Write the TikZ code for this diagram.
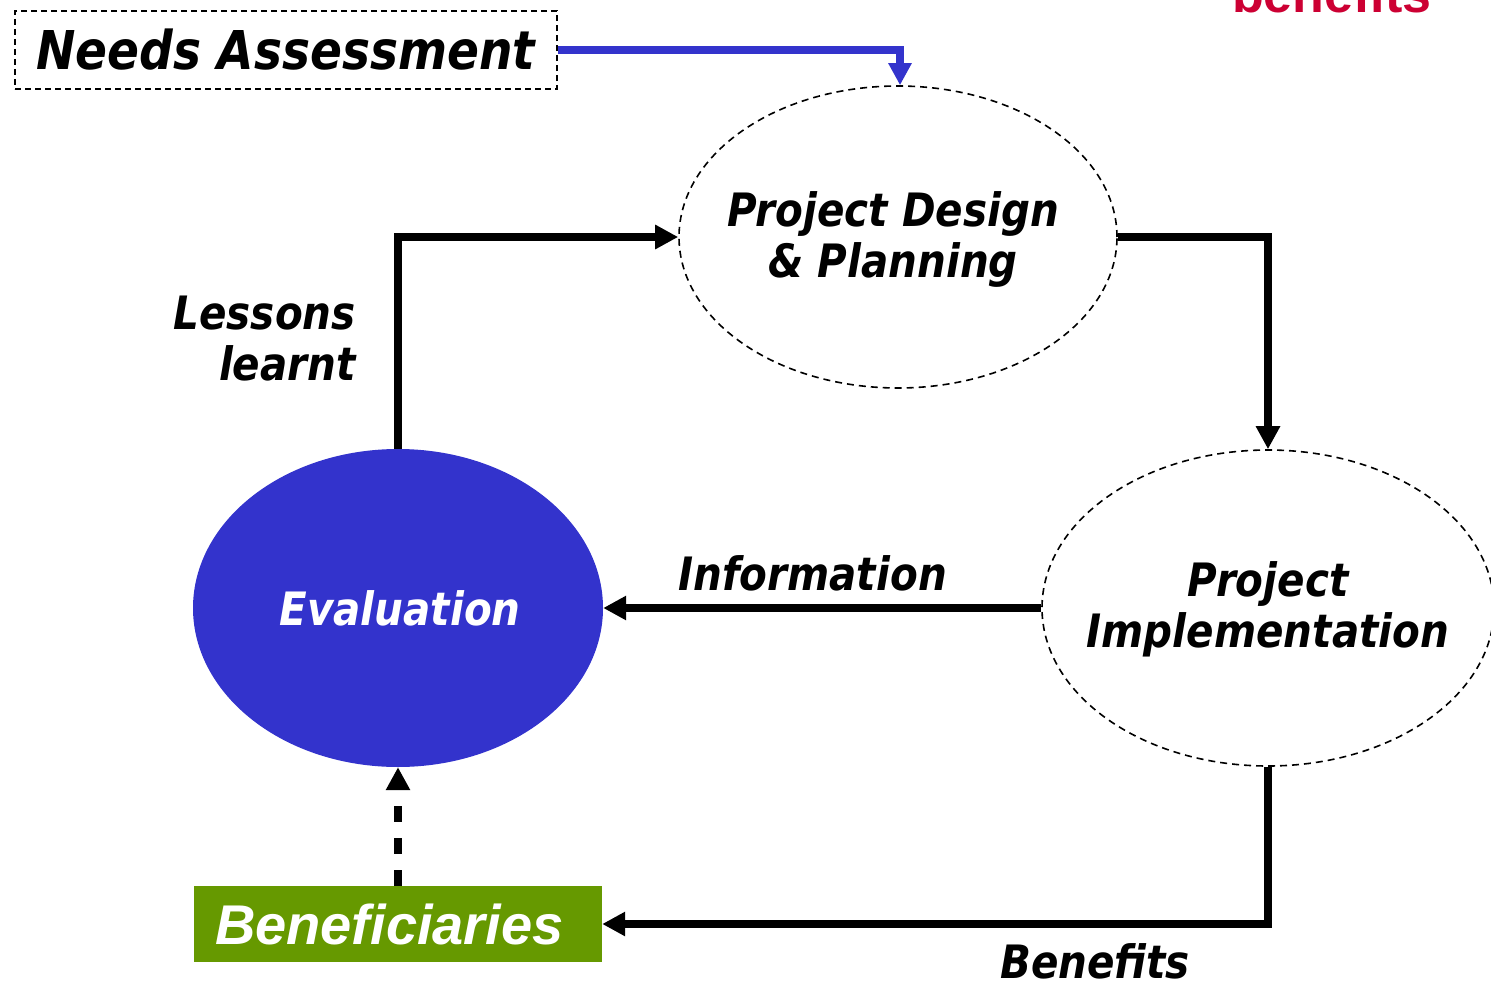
\documentclass[tikz,border=0pt]{standalone}
\usepackage{fontspec}
\usetikzlibrary{shapes.geometric,arrows.meta}
\newfontfamily\vfont{DejaVu Sans}[FakeStretch=0.88]
\newfontfamily\afont{Liberation Sans}
\definecolor{myblue}{HTML}{3333CC}
\definecolor{mygreen}{HTML}{669900}
\definecolor{myred}{HTML}{CC0033}
\tikzset{
  lbl/.style={font=\vfont\bfseries\itshape\fontsize{46}{51}\selectfont, inner sep=0pt, align=center},
  dashell/.style={ellipse, draw=black, line width=1.6pt, dash pattern=on 7pt off 5pt, inner sep=0pt},
  flow/.style={line width=7.5pt, -{Triangle[width=23pt,length=23pt]}},
}
\begin{document}
\begin{tikzpicture}[x=1pt,y=-1pt]
\useasboundingbox (0,0) rectangle (1491,982);
% red partial text
\node[font=\afont\bfseries\fontsize{52}{60}\selectfont, text=myred, inner sep=0pt, anchor=base west] (red) at (1232,13) {benefits};
% shapes
\node[rectangle, draw=black, line width=1.6pt, dash pattern=on 6pt off 4pt, minimum width=542pt, minimum height=78pt, inner sep=0pt] (needs) at (286,50) {};
\node[dashell, minimum width=438pt, minimum height=302pt] (design) at (898,237) {};
\node[dashell, minimum width=452pt, minimum height=316pt] (impl) at (1268,608) {};
\node[ellipse, fill=myblue, minimum width=410pt, minimum height=318pt, inner sep=0pt] (eval) at (398,608) {};
\node[rectangle, fill=mygreen, minimum width=408pt, minimum height=76pt, inner sep=0pt, text=white, font=\afont\bfseries\itshape\fontsize{56}{60}\selectfont] (ben) at (398,924) {\makebox[408pt][l]{\hspace{21pt}Beneficiaries}};
% texts in shapes
\node[lbl, font=\vfont\bfseries\itshape\fontsize{53.5}{60}\selectfont] (needst) at (needs.center) {Needs Assessment};
\node[lbl] (designt) at ([xshift=-5pt,yshift=-2pt]design.center) {Project Design\\\& Planning};
\node[lbl] (implt) at ([yshift=-1pt]impl.center) {Project\\Implementation};
\node[lbl, text=white] (evalt) at ([xshift=2pt]eval.center) {Evaluation};
% labels
\node[lbl, anchor=base east] (lessons) at (356,329) {Lessons};
\node[lbl, anchor=base east] (learnt) at (356,380) {learnt};
\node[lbl, anchor=base west] (info) at (678,590) {Information};
\node[lbl, anchor=base west] (benefits) at (1000,978) {Benefits};
% connectors
\draw[line width=7.5pt, myblue, -{Triangle[width=22pt,length=22pt]}] (needs.east) -| ([xshift=2pt]design.north);
\draw[flow] (eval.north) |- (design.west);
\draw[flow] (design.east) -| (impl.north);
\draw[flow] (impl.west) -- (eval.east);
\draw[flow] (impl.south) |- (ben.east);
\draw[flow, dash pattern=on 16pt off 16pt] (ben.north) -- (eval.south);
\end{tikzpicture}
\end{document}
